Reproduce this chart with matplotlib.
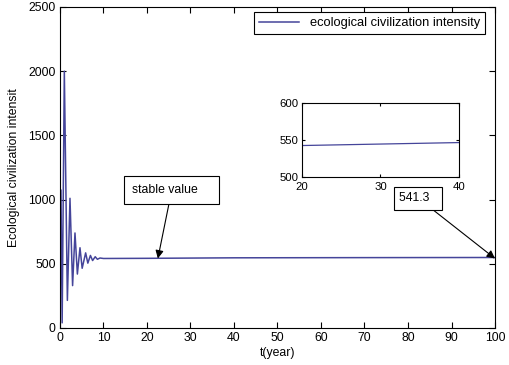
import matplotlib
matplotlib.use("Agg")
import matplotlib.pyplot as plt

plt.rcParams['font.family'] = ['Liberation Sans', 'DejaVu Sans']

# extrema of the damped oscillation, then the stable plateau
t = [0.0, 0.23, 0.5, 1.0, 1.7, 2.3, 2.9, 3.45, 4.0, 4.6, 5.1, 5.9, 6.4, 7.0, 7.5,
     8.1, 8.6, 9.2, 10.0, 20.0, 30.0, 40.0, 70.0, 100.0]
intensity = [50, 1075, 40, 2000, 215, 1010, 330, 740, 420, 625, 465, 585, 505, 565, 525,
             555, 535, 545, 541.3, 542.5, 544.5, 546.5, 548, 549]

line_color = '#45459a'

fig = plt.figure(figsize=(5.1, 3.65), dpi=100)
ax = fig.add_axes([0.1176, 0.1014, 0.853, 0.8795])
ax.plot(t, intensity, color=line_color, lw=1.1, label='ecological civilization intensity')
ax.set_xlim(0, 100)
ax.set_ylim(0, 2500)
ax.set_xticks(range(0, 101, 10))
ax.set_yticks(range(0, 2501, 500))
ax.tick_params(direction='in', top=True, right=True, labelsize=8.8, length=4, pad=3)
ax.set_xlabel('t(year)', fontsize=8.8, labelpad=2)
ax.set_ylabel('Ecological civilization intensit', fontsize=8.8, labelpad=6)

leg = ax.legend(loc='upper right', bbox_to_anchor=(485 / 510, 1 - 12 / 365),
                bbox_transform=fig.transFigure, borderaxespad=0, fontsize=9.3,
                fancybox=False, handlelength=3.1, framealpha=1, borderpad=0.4)
leg.get_frame().set_edgecolor('k')
leg.get_frame().set_linewidth(0.8)

arrow = dict(arrowstyle='-|>', color='k', lw=0.8, mutation_scale=12, shrinkA=0, shrinkB=0)
ax.annotate('stable value    ', xy=(22.5, 541), xytext=(25.7, 1075), fontsize=8.8,
            ha='center', va='center', arrowprops=arrow,
            bbox=dict(boxstyle='square,pad=0.65', fc='white', ec='k', lw=0.8))
ax.annotate('541.3  ', xy=(100, 541), xytext=(82.3, 1012), fontsize=8.8,
            ha='center', va='center', arrowprops=arrow,
            bbox=dict(boxstyle='square,pad=0.45', fc='white', ec='k', lw=0.8))

inset = fig.add_axes([0.592, 0.515, 0.308, 0.203])
inset.plot(t, intensity, color=line_color, lw=0.9)
inset.set_xlim(20, 40)
inset.set_ylim(500, 600)
inset.set_xticks([20, 30, 40])
inset.set_yticks([500, 550, 600])
inset.tick_params(direction='in', top=True, right=True, labelsize=8.2, length=2)
inset.tick_params(axis='x', pad=3.5)
inset.tick_params(axis='y', pad=2.5)

fig.savefig('out.png', dpi=100)
